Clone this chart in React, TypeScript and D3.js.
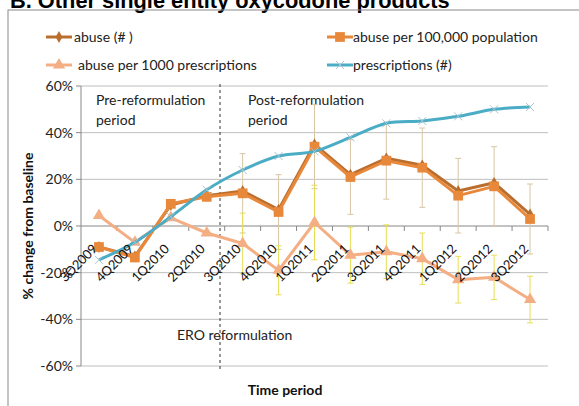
import React from "react";
import * as d3 from "d3";

const categories = ["3Q2009", "4Q2009", "1Q2010", "2Q2010", "3Q2010", "4Q2010", "1Q2011", "2Q2011", "3Q2011", "4Q2011", "1Q2012", "2Q2012", "3Q2012"];
const abuseCount = [-9, -13, 9, 13, 15, 7, 35, 22, 29, 26, 15, 18.5, 5];
const abusePer100k = [-9, -13.5, 9.5, 12.5, 14, 6, 34, 21, 28, 25, 13, 17, 3];
const abusePer1000Rx = [4.5, -7, 3.5, -3, -7.5, -19, 1.5, -12.5, -11, -14, -23, -22, -31.5];
const prescriptions = [-14.5, -7, 4, 15.5, 24, 30, 32, 38, 44, 45, 47, 50, 51];
const errPer100k = [null, null, null, null, 17, 16, 18, 16, 16.5, 17, 16, 17, 15];
const errPer1000Rx = [null, null, null, null, 13, 10.5, 16, 12, 11.5, 11, 10, 9.5, 10];
const yTicks = [-60, -40, -20, 0, 20, 40, 60];
const legendItems = ["abuse (# )", "abuse per 100,000 population", "abuse per 1000 prescriptions", "prescriptions (#)"];

const FONT = "Lato, 'Open Sans', sans-serif";
const C_BROWN = "#BA6E2E";
const C_ORANGE = "#E8883A";
const C_SALMON = "#F4AE84";
const C_TEAL = "#4BACC6";
const C_TAN = "#D8C6A4";
const C_YELLOW = "#E6DE55";

export default function App() {
  const left = 81, right = 548, top = 86, bottom = 366;
  const x = d3.scaleBand<string>().domain(categories).range([left, right]);
  const bw = x.bandwidth();
  const cx = (i: number) => (x(categories[i]) as number) + bw / 2;
  const y = d3.scaleLinear().domain([-60, 60]).range([bottom, top]);

  const straight = d3.line<number>().x((_, i) => cx(i)).y((d) => y(d));
  const smooth = d3.line<number>().x((_, i) => cx(i)).y((d) => y(d)).curve(d3.curveCardinal.tension(0.1));

  const dashX = (x("3Q2010") as number) - 0.13 * bw;
  const tri = d3.symbol().type(d3.symbolTriangle).size(65)() as string;
  const sq = d3.symbol().type(d3.symbolSquare).size(95)() as string;
  const dia = d3.symbol().type(d3.symbolDiamond).size(40)() as string;

  const errBars = (vals: number[], errs: (number | null)[], color: string) =>
    errs.map((e, i) =>
      e == null ? null : (
        <g key={i} stroke={color} strokeWidth={1}>
          <line x1={cx(i)} x2={cx(i)} y1={y(vals[i] + e)} y2={y(vals[i] - e)} />
          <line x1={cx(i) - 3} x2={cx(i) + 3} y1={y(vals[i] + e)} y2={y(vals[i] + e)} />
          <line x1={cx(i) - 3} x2={cx(i) + 3} y1={y(vals[i] - e)} y2={y(vals[i] - e)} />
        </g>
      )
    );

  const xMark = (px: number, py: number, k: number) => (
    <g key={k} stroke="#A9C4CF" strokeWidth={1}>
      <line x1={px - 4} y1={py - 4} x2={px + 4} y2={py + 4} />
      <line x1={px - 4} y1={py + 4} x2={px + 4} y2={py - 4} />
    </g>
  );

  const legendMarker = (i: number, lx: number, ly: number) => {
    const colors = [C_BROWN, C_ORANGE, C_SALMON, C_TEAL];
    const mx = lx + 13;
    return (
      <g>
        <line x1={lx} x2={lx + 26} y1={ly} y2={ly} stroke={colors[i]} strokeWidth={3} />
        {i === 0 && <path d={dia} transform={`translate(${mx},${ly})`} fill={C_BROWN} />}
        {i === 1 && <path d={sq} transform={`translate(${mx},${ly})`} fill={C_ORANGE} />}
        {i === 2 && <path d={tri} transform={`translate(${mx},${ly})`} fill={C_SALMON} />}
        {i === 3 && xMark(mx, ly, 0)}
      </g>
    );
  };

  return (
    <svg width={579} height={406} style={{ position: "absolute", left: 0, top: 0 }}>
      <rect x={0} y={0} width={579} height={406} fill="#fff" />
      <text x={10} y={8} fontFamily="'Liberation Sans', Arial, sans-serif" fontWeight="bold" fontSize={21.8} fill="#000">
        B. Other single entity oxycodone products
      </text>
      <rect x={8} y={10} width={600} height={420} fill="none" stroke="#8a8a8a" strokeWidth={1} />

      {/* legend */}
      {legendMarker(0, 46, 37)}
      <text x={74} y={42} fontFamily={FONT} fontSize={14} fill="#222">{legendItems[0]}</text>
      {legendMarker(1, 327, 37)}
      <text x={353} y={42} fontFamily={FONT} fontSize={14} fill="#222">{legendItems[1]}</text>
      {legendMarker(2, 46, 65)}
      <text x={78} y={70} fontFamily={FONT} fontSize={14} fill="#222">{legendItems[2]}</text>
      {legendMarker(3, 327, 65)}
      <text x={353} y={70} fontFamily={FONT} fontSize={14} fill="#222">{legendItems[3]}</text>

      {/* gridlines */}
      {yTicks.filter((t) => t !== 0).map((t) => (
        <line key={t} x1={left} x2={right} y1={y(t)} y2={y(t)} stroke="#BEBEBE" strokeWidth={1} />
      ))}
      {/* y axis */}
      <line x1={left} x2={left} y1={top} y2={bottom} stroke="#888" />
      {yTicks.map((t) => (
        <g key={t}>
          <line x1={left - 5} x2={left} y1={y(t)} y2={y(t)} stroke="#888" />
          <text x={73} y={y(t) + 5} textAnchor="end" fontFamily={FONT} fontSize={14} fill="#222">{`${t}%`}</text>
        </g>
      ))}
      {/* x axis */}
      <line x1={left} x2={right} y1={y(0)} y2={y(0)} stroke="#888" strokeWidth={1.2} />
      {categories.map((c, i) => (
        <line key={c} x1={(x(c) as number) + bw} x2={(x(c) as number) + bw} y1={y(0)} y2={y(0) + 5} stroke="#888" />
      ))}

      {/* annotations */}
      <line x1={dashX} x2={dashX} y1={84} y2={371} stroke="#333" strokeWidth={1} strokeDasharray="3,3" />
      <text fontFamily={FONT} fontSize={14} fill="#222">
        <tspan x={96} y={105}>Pre-reformulation</tspan>
        <tspan x={96} y={125}>period</tspan>
      </text>
      <text fontFamily={FONT} fontSize={14} fill="#222">
        <tspan x={248} y={105}>Post-reformulation</tspan>
        <tspan x={248} y={125}>period</tspan>
      </text>
      <text x={177} y={340} fontFamily={FONT} fontSize={14} fill="#222">ERO reformulation</text>

      {/* error bars */}
      {errBars(abusePer100k, errPer100k, C_TAN)}
      {errBars(abusePer1000Rx, errPer1000Rx, C_YELLOW)}

      {/* series */}
      <path d={straight(abuseCount) as string} fill="none" stroke={C_BROWN} strokeWidth={3} strokeLinejoin="round" />
      {abuseCount.map((v, i) => (
        <path key={i} d={dia} transform={`translate(${cx(i)},${y(v)})`} fill={C_BROWN} />
      ))}
      <path d={straight(abusePer100k) as string} fill="none" stroke={C_ORANGE} strokeWidth={3} strokeLinejoin="round" />
      {abusePer100k.map((v, i) => (
        <path key={i} d={sq} transform={`translate(${cx(i)},${y(v)})`} fill={C_ORANGE} />
      ))}
      <path d={straight(abusePer1000Rx) as string} fill="none" stroke={C_SALMON} strokeWidth={3} strokeLinejoin="round" />
      {abusePer1000Rx.map((v, i) => (
        <path key={i} d={tri} transform={`translate(${cx(i)},${y(v)})`} fill={C_SALMON} />
      ))}
      <path d={smooth(prescriptions) as string} fill="none" stroke={C_TEAL} strokeWidth={3} />
      {prescriptions.map((v, i) => xMark(cx(i), y(v), i))}

      {/* x tick labels */}
      {categories.map((c, i) => (
        <text key={c} transform={`translate(${cx(i) - 1},${y(0) + 24}) rotate(-45)`} textAnchor="end" fontFamily={FONT} fontSize={13} letterSpacing={-0.3} fill="#111">
          {c}
        </text>
      ))}

      {/* axis titles */}
      <text transform={`translate(33,${(top + bottom) / 2}) rotate(-90)`} textAnchor="middle" fontFamily={FONT} fontWeight="bold" fontSize={14} fill="#111">
        % change from baseline
      </text>
      <text x={285} y={395} textAnchor="middle" fontFamily={FONT} fontWeight="bold" fontSize={14} fill="#111">Time period</text>
    </svg>
  );
}
